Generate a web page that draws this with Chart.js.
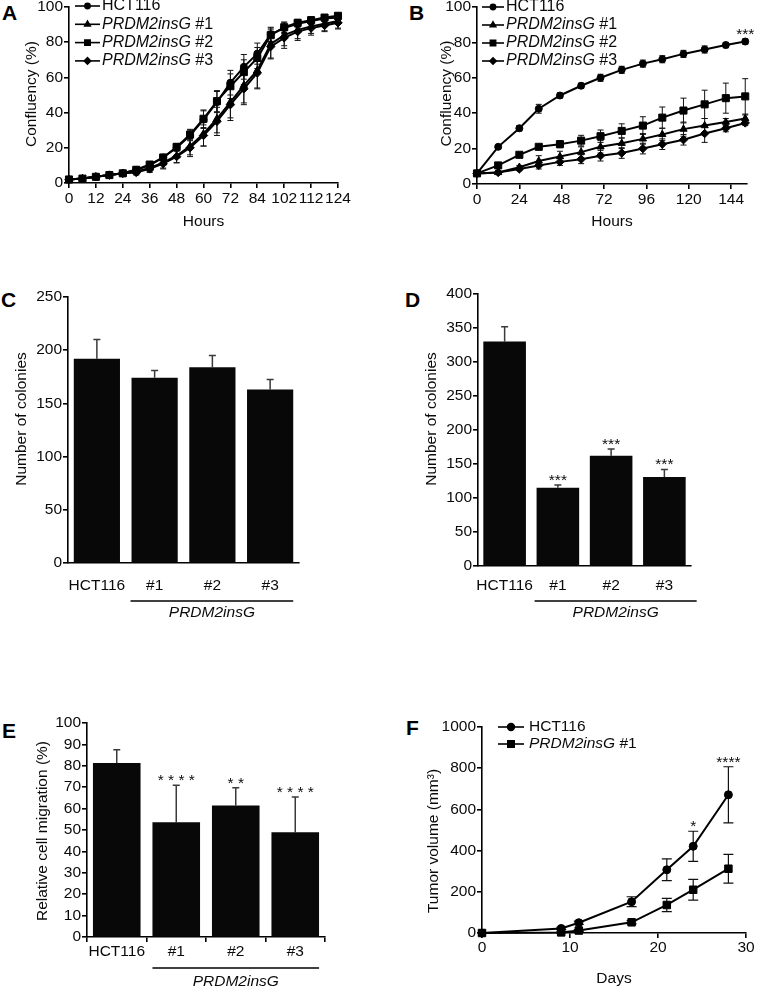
<!DOCTYPE html>
<html>
<head>
<meta charset="utf-8">
<script src="https://cdn.jsdelivr.net/npm/chart.js@4.4.1/dist/chart.umd.min.js"></script>
<style>
  html, body { margin: 0; padding: 0; background: #fff; }
  body { width: 758px; height: 988px; position: relative; overflow: hidden;
         font-family: 'Liberation Sans', Arial, Helvetica, sans-serif; }
  .panel  { position: absolute; }
  .letter { position: absolute; font-weight: bold; font-size: 21px; line-height: 21px; color: #000; }
</style>
</head>
<body>
<div class="letter" style="left:2px;top:2px">A</div>
<div class="letter" style="left:409px;top:2px">B</div>
<div class="letter" style="left:1px;top:289px">C</div>
<div class="letter" style="left:405px;top:289px">D</div>
<div class="letter" style="left:2px;top:720px">E</div>
<div class="letter" style="left:406px;top:717px">F</div>

<div class="panel" style="left:0;top:-13px;width:360px;height:244px"><canvas id="chart-a"></canvas></div>
<div class="panel" style="left:380px;top:-13px;width:378px;height:244px"><canvas id="chart-b"></canvas></div>
<div class="panel" style="left:0;top:280px;width:345px;height:345px"><canvas id="chart-c"></canvas></div>
<div class="panel" style="left:380px;top:280px;width:378px;height:345px"><canvas id="chart-d"></canvas></div>
<div class="panel" style="left:0;top:705px;width:360px;height:283px"><canvas id="chart-e"></canvas></div>
<div class="panel" style="left:380px;top:705px;width:378px;height:283px"><canvas id="chart-f"></canvas></div>

<script>
// ---- datos ----
// A: confluencia cada ~6 h (el eje original rotula 0..84, 102, 112, 124)
const hoursA   = ['0','6','12','18','24','30','36','42','48','54','60','66','72','78','84','93','102','107','112','118','124'];
const hct116A  = [2, 2.5, 3.5, 4.5, 5.5, 7.5, 10, 14.5, 20, 27, 36, 46, 57, 66, 73.5, 84.5, 88, 90.5, 92, 93.5, 94];
const ins1A    = [2, 2.5, 3.5, 4.5, 5.5, 6.5, 8.5, 11.5, 15.5, 21, 28, 36.5, 46, 55.5, 64, 79, 84, 87, 89, 90.5, 92];
const ins2A    = [2, 2.5, 3.5, 4.5, 5.5, 7.5, 10.5, 14.5, 20.5, 27.5, 36.5, 46.5, 55, 63, 71, 84, 88.5, 91, 92.5, 94, 95];
const ins3A    = [2, 2.5, 3.5, 4.5, 5.5, 6, 8, 11, 15, 20, 27, 35, 44.5, 53.5, 62.5, 77.5, 82.5, 86, 88, 89.5, 91];
const errHctA  = [0.5, 0.5, 0.5, 0.5, 0.8, 1, 1.2, 1.5, 2, 3, 5, 6, 7, 7, 6, 4, 3, 2, 2, 1.5, 1.5];
const errIns1A = [0.5, 0.5, 0.5, 0.5, 1, 1.5, 2, 3, 4, 5, 7, 8, 9, 10, 10, 8, 6, 5, 4, 4, 4];
const errIns2A = [0.5, 0.5, 0.5, 0.5, 0.8, 1, 1.2, 1.5, 2, 3, 5, 6, 7, 7, 6, 4, 3, 2, 2, 1.5, 1.5];
const errIns3A = [0.5, 0.5, 0.5, 0.5, 1, 1.5, 2, 3, 3.5, 5, 6, 8, 9, 9, 9, 7, 6, 5, 4, 3.5, 3.5];

// B: confluencia, medidas cada ~12 h
const hoursB   = [0, 12, 24, 35, 47, 59, 70, 82, 94, 105, 117, 129, 141, 152];
const ticksB   = [0, 24, 48, 72, 96, 120, 144];
const hct116B  = [6, 21, 31.5, 42.5, 50, 55.5, 60, 64.5, 68, 70.5, 73.5, 76, 78.5, 80.5];
const ins1B    = [6, 6.5, 9.5, 13, 15.5, 18, 21, 23, 25.5, 28, 31, 33, 35, 37];
const ins2B    = [6, 10.5, 16.5, 21, 22.5, 24.5, 27, 30, 33, 37.5, 41.5, 45, 48.5, 49.5];
const ins3B    = [6, 6.5, 8.5, 10.5, 12.5, 14, 16, 17.5, 20, 22.5, 25, 28.5, 31.5, 34.5];
const errHctB  = [1, 1, 1.5, 2.5, 1.5, 1.5, 2, 2, 2, 2, 2, 2, 1.5, 1.5];
const errIns1B = [1, 1, 1, 3, 3, 3, 3.5, 3, 3, 3.5, 4, 4, 2, 2];
const errIns2B = [1, 1, 1, 1, 2, 3, 3.5, 4, 5, 6, 7, 8, 8.5, 10];
const errIns3B = [1, 1, 1, 2, 2, 2.5, 3, 3, 3, 3, 3, 5, 2, 1.5];
const sigB     = ['', '', '', '', '', '', '', '', '', '', '', '', '', '***'];

// C, D, E: barras
const groups     = ['HCT116', '#1', '#2', '#3'];
const coloniesC  = [192, 174, 184, 163];
const errC       = [18, 7, 11, 9.5];
const coloniesD  = [330, 115, 162, 131];
const errD       = [22, 4, 10, 11];
const sigD       = ['', '***', '***', '***'];
const migrationE = [81.3, 53.6, 61.5, 49];
const errE       = [6.2, 17.3, 8.3, 16.4];
const sigE       = ['', '* * * *', '* *', '* * * *'];

// F: volumen tumoral
const daysF     = [0, 9, 11, 17, 21, 24, 28];
const ticksF    = [0, 10, 20, 30];
const hctF      = [0, 22, 50, 152, 307, 421, 671];
const ins1F     = [0, 3, 12, 52, 136, 210, 312];
const errHctF   = [0, 6, 8, 24, 53, 73, 136];
const errIns1F  = [0, 3, 5, 8, 32, 50, 70];
const sigF      = ['', '', '', '', '', '*', '****'];

const ITALIC = 'PRDM2insG';

// ---- estilo ----
const FONT = "'Liberation Sans', Arial, Helvetica, sans-serif";
Chart.defaults.font.family = FONT;
Chart.defaults.font.size   = 15.5;
Chart.defaults.color       = '#0a0a0a';
Chart.defaults.animation   = false;

const axisLine = { display: true, color: '#000', width: 1.6 };

// texto con la parte "PRDM2insG" en cursiva
function drawMixed(ctx, text, x, y, size, align) {
  const parts = text.startsWith(ITALIC)
    ? [[ITALIC, true], [text.slice(ITALIC.length), false]]
    : [[text, false]];
  const fontOf = it => `${it ? 'italic ' : ''}${size}px ${FONT}`;
  let total = 0;
  parts.forEach(([t, it]) => { ctx.font = fontOf(it); total += ctx.measureText(t).width; });
  let cx = align === 'center' ? x - total / 2 : x;
  ctx.textAlign = 'left';
  ctx.textBaseline = 'middle';
  parts.forEach(([t, it]) => {
    ctx.font = fontOf(it);
    ctx.fillText(t, cx, y);
    cx += ctx.measureText(t).width;
  });
}

const valueOf = raw => (typeof raw === 'object' ? raw.y : raw);

// barras de error (sd)
const errorBars = {
  id: 'errorBars',
  beforeDatasetsDraw(chart, args, opts) {
    const { ctx } = chart, ys = chart.scales.y;
    ctx.save();
    ctx.strokeStyle = opts.color;
    ctx.lineWidth = opts.width;
    chart.data.datasets.forEach((ds, i) => {
      if (!ds.errors) return;
      chart.getDatasetMeta(i).data.forEach((el, j) => {
        const v = valueOf(ds.data[j]), e = ds.errors[j];
        if (!e) return;
        const top = ys.getPixelForValue(v + e);
        const bot = ys.getPixelForValue(opts.upperOnly ? v : v - e);
        const c = opts.cap;
        ctx.beginPath();
        ctx.moveTo(el.x, bot); ctx.lineTo(el.x, top);
        ctx.moveTo(el.x - c, top); ctx.lineTo(el.x + c, top);
        if (!opts.upperOnly) { ctx.moveTo(el.x - c, bot); ctx.lineTo(el.x + c, bot); }
        ctx.stroke();
      });
    });
    ctx.restore();
  }
};

// asteriscos de significancia
const sigStars = {
  id: 'sigStars',
  afterDatasetsDraw(chart, args, opts) {
    const { ctx } = chart, ys = chart.scales.y;
    ctx.save();
    ctx.font = `${opts.size}px ${FONT}`;
    ctx.fillStyle = '#0a0a0a';
    ctx.textAlign = 'center';
    ctx.textBaseline = 'alphabetic';
    chart.data.datasets.forEach((ds, i) => {
      if (!ds.sig) return;
      chart.getDatasetMeta(i).data.forEach((el, j) => {
        if (!ds.sig[j]) return;
        const top = ys.getPixelForValue(valueOf(ds.data[j]) + (ds.errors ? ds.errors[j] : 0));
        ctx.fillText(ds.sig[j], el.x, top - opts.gap);
      });
    });
    ctx.restore();
  }
};

// leyenda tipo GraphPad: línea + marcador + texto
const lineLegend = {
  id: 'lineLegend',
  afterDraw(chart, args, opts) {
    const { ctx, chartArea } = chart;
    ctx.save();
    chart.data.datasets.forEach((ds, i) => {
      const y  = chartArea.top + opts.dy + i * opts.rowH;
      const x0 = chartArea.left + opts.dx, x1 = x0 + opts.lineW;
      ctx.strokeStyle = '#000'; ctx.fillStyle = '#000'; ctx.lineWidth = 1.6;
      ctx.beginPath(); ctx.moveTo(x0, y); ctx.lineTo(x1, y); ctx.stroke();
      Chart.helpers.drawPoint(ctx, { pointStyle: ds.pointStyle, radius: ds.pointRadius * opts.scale, borderWidth: 1, rotation: 0 }, (x0 + x1) / 2, y);
      ctx.fillStyle = '#0a0a0a';
      drawMixed(ctx, ds.label, x1 + opts.gap, y, opts.size, 'left');
    });
    ctx.restore();
  }
};

// título del eje y (rotado)
const yTitle = {
  id: 'yTitle',
  afterDraw(chart, args, opts) {
    const { ctx, chartArea } = chart;
    ctx.save();
    ctx.translate(chartArea.left + opts.dx, (chartArea.top + chartArea.bottom) / 2 + opts.dy);
    ctx.rotate(-Math.PI / 2);
    ctx.fillStyle = '#0a0a0a';
    ctx.font = `15.5px ${FONT}`;
    ctx.textAlign = 'center';
    ctx.textBaseline = 'middle';
    ctx.fillText(opts.text, 0, 0);
    ctx.restore();
  }
};

// corchete + "PRDM2insG" bajo las barras #1..#3
const groupLabel = {
  id: 'groupLabel',
  afterDraw(chart, args, opts) {
    const { ctx, chartArea } = chart;
    const bars = chart.getDatasetMeta(0).data;
    const a = bars[opts.from], b = bars[opts.to];
    const x0 = a.x - a.width / 2 - opts.padL, x1 = b.x + b.width / 2 + opts.padR;
    const y = chartArea.bottom + opts.lineDy;
    ctx.save();
    ctx.strokeStyle = '#000'; ctx.lineWidth = 1.3;
    ctx.beginPath(); ctx.moveTo(x0, y); ctx.lineTo(x1, y); ctx.stroke();
    ctx.fillStyle = '#0a0a0a';
    drawMixed(ctx, opts.text, (x0 + x1) / 2, chartArea.bottom + opts.textDy, 15.5, 'center');
    ctx.restore();
  }
};

const common = {
  responsive: true,
  maintainAspectRatio: false,
  animation: false,
  plugins: { legend: { display: false }, tooltip: { enabled: false } }
};

function lineDs(label, values, errors, style, r, xs) {
  return {
    label,
    data: xs ? xs.map((x, i) => ({ x, y: values[i] })) : values,
    errors,
    pointStyle: style, pointRadius: r,
    borderColor: '#000', backgroundColor: '#000',
    pointBackgroundColor: '#000', pointBorderColor: '#000', pointBorderWidth: 1,
    borderWidth: 2, tension: 0, clip: false
  };
}

function yAxis(width, min, max, step) {
  return {
    min, max,
    afterFit: s => { s.width = width; },
    ticks: { stepSize: step, padding: 1, autoSkip: false, format: { useGrouping: false } },
    grid: { drawOnChartArea: false, tickLength: 5, color: '#000', lineWidth: 1.6 },
    border: axisLine
  };
}

function barChart(id, values, errors, sig, yOpts, xOpts, extra) {
  const ds = { data: values, errors, sig, backgroundColor: '#080808', borderWidth: 0,
               barPercentage: 0.8, categoryPercentage: 1.0 };
  return new Chart(document.getElementById(id), {
    type: 'bar',
    data: { labels: groups, datasets: [ds] },
    plugins: [errorBars, sigStars, yTitle, groupLabel],
    options: {
      ...common,
      layout: { padding: extra.padding },
      plugins: {
        ...common.plugins,
        errorBars: { color: '#3a3a3a', width: 1.5, cap: 3.5, upperOnly: true },
        sigStars: { size: 15.5, gap: 0 },
        yTitle: extra.yTitle,
        groupLabel: { from: 1, to: 3, text: ITALIC, ...extra.group }
      },
      scales: {
        x: {
          type: 'category', offset: true,
          afterFit: s => { s.height = xOpts.height; },
          ticks: { padding: xOpts.pad, maxRotation: 0, autoSkip: false },
          grid: { drawOnChartArea: false, drawTicks: xOpts.ticks, tickLength: 5, color: '#000', lineWidth: 1.6 },
          border: axisLine
        },
        y: yOpts
      }
    }
  });
}

// ---- A ----
new Chart(document.getElementById('chart-a'), {
  type: 'line',
  data: {
    labels: hoursA,
    datasets: [
      lineDs('HCT116',       hct116A, errHctA,  'circle',   3.5),
      lineDs('PRDM2insG #1', ins1A,   errIns1A, 'triangle', 4.2),
      lineDs('PRDM2insG #2', ins2A,   errIns2A, 'rect',     5),
      lineDs('PRDM2insG #3', ins3A,   errIns3A, 'rectRot',  4.2)
    ]
  },
  plugins: [errorBars, lineLegend, yTitle],
  options: {
    ...common,
    layout: { padding: { top: 20, right: 22, left: 0, bottom: 0 } },
    plugins: {
      ...common.plugins,
      errorBars: { color: '#111', width: 1, cap: 3, upperOnly: false },
      lineLegend: { dx: 6, dy: -1, rowH: 18.3, lineW: 25, gap: 2, size: 16, scale: 0.75 },
      yTitle: { text: 'Confluency (%)', dx: -37, dy: -1 }
    },
    scales: {
      x: {
        type: 'category', offset: false,
        afterFit: s => { s.height = 48; },
        ticks: { autoSkip: false, maxRotation: 0, padding: 1,
                 callback(v, i) { return i % 2 ? '' : this.getLabelForValue(v); } },
        grid: { drawOnChartArea: false, tickLength: 5, lineWidth: 1.6,
                tickColor: c => (c.index % 2 ? 'rgba(0,0,0,0)' : '#000') },
        border: axisLine,
        title: { display: true, text: 'Hours', padding: 0 }
      },
      y: yAxis(69, 0, 100, 20)
    }
  }
});

// ---- B ----
const dsB = [
  lineDs('HCT116',       hct116B, errHctB,  'circle',   3.5, hoursB),
  lineDs('PRDM2insG #1', ins1B,   errIns1B, 'triangle', 4.2, hoursB),
  lineDs('PRDM2insG #2', ins2B,   errIns2B, 'rect',     5,   hoursB),
  lineDs('PRDM2insG #3', ins3B,   errIns3B, 'rectRot',  4.2, hoursB)
];
dsB[0].sig = sigB;
new Chart(document.getElementById('chart-b'), {
  type: 'line',
  data: { datasets: dsB },
  plugins: [errorBars, sigStars, lineLegend, yTitle],
  options: {
    ...common,
    layout: { padding: { top: 20, right: 11, left: 0, bottom: 0 } },
    plugins: {
      ...common.plugins,
      errorBars: { color: '#111', width: 1, cap: 3, upperOnly: false },
      sigStars: { size: 15.5, gap: 0 },
      lineLegend: { dx: 5, dy: 0, rowH: 18, lineW: 22, gap: 2, size: 16, scale: 0.75 },
      yTitle: { text: 'Confluency (%)', dx: -30, dy: -2 }
    },
    scales: {
      x: {
        type: 'linear', min: 0, max: 153,
        afterBuildTicks: s => { s.ticks = ticksB.map(value => ({ value })); },
        afterFit: s => { s.height = 47; },
        ticks: { maxRotation: 0, padding: 1 },
        grid: { drawOnChartArea: false, tickLength: 5, color: '#000', lineWidth: 1.6 },
        border: axisLine,
        title: { display: true, text: 'Hours', padding: 0 }
      },
      y: yAxis(97, 0, 100, 20)
    }
  }
});

// ---- C ----
barChart('chart-c', coloniesC, errC, null,
  yAxis(68, 0, 250, 50),
  { height: 62, pad: 13, ticks: false },
  { padding: { top: 17, right: 46, left: 0, bottom: 0 },
    yTitle: { text: 'Number of colonies', dx: -46, dy: -11 },
    group: { lineDy: 38, textDy: 50, padL: 1, padR: 0 } });

// ---- D ----
barChart('chart-d', coloniesD, errD, sigD,
  yAxis(98, 0, 400, 50),
  { height: 59, pad: 10, ticks: false },
  { padding: { top: 14, right: 67, left: 0, bottom: 0 },
    yTitle: { text: 'Number of colonies', dx: -46, dy: -11 },
    group: { lineDy: 35, textDy: 47, padL: 2, padR: 11 } });

// ---- E ----
barChart('chart-e', migrationE, errE, sigE,
  yAxis(87, 0, 100, 10),
  { height: 51, pad: 0, ticks: true },
  { padding: { top: 18, right: 35, left: 0, bottom: 0 },
    yTitle: { text: 'Relative cell migration (%)', dx: -44, dy: 1 },
    group: { lineDy: 31, textDy: 45, padL: 0, padR: 0 } });

// ---- F ----
const dsF = [
  lineDs('HCT116',       hctF,  errHctF,  'circle', 4,   daysF),
  lineDs('PRDM2insG #1', ins1F, errIns1F, 'rect',   5.3, daysF)
];
dsF[0].sig = sigF;
new Chart(document.getElementById('chart-f'), {
  type: 'line',
  data: { datasets: dsF },
  plugins: [errorBars, sigStars, lineLegend, yTitle],
  options: {
    ...common,
    layout: { padding: { top: 22, right: 12, left: 0, bottom: 0 } },
    plugins: {
      ...common.plugins,
      errorBars: { color: '#111', width: 1.2, cap: 5, upperOnly: false },
      sigStars: { size: 15.5, gap: 0 },
      lineLegend: { dx: 16, dy: 0, rowH: 17, lineW: 26, gap: 5, size: 15.5, scale: 0.85 },
      yTitle: { text: 'Tumor volume (mm³)', dx: -48, dy: 11 }
    },
    scales: {
      x: {
        type: 'linear', min: 0, max: 30,
        afterBuildTicks: s => { s.ticks = ticksF.map(value => ({ value })); },
        afterFit: s => { s.height = 55; },
        ticks: { maxRotation: 0, padding: 0 },
        grid: { drawOnChartArea: false, tickLength: 5, color: '#000', lineWidth: 1.6 },
        border: axisLine,
        title: { display: true, text: 'Days', padding: 0 }
      },
      y: yAxis(102, 0, 1000, 200)
    }
  }
});
</script>
</body>
</html>
